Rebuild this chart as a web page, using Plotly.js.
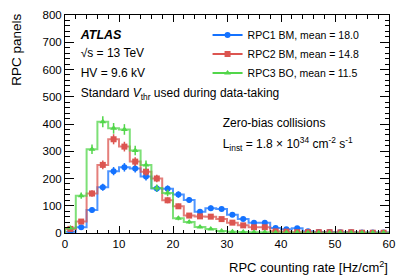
<!DOCTYPE html>
<html>
<head>
<meta charset="utf-8">
<script src="https://cdn.plot.ly/plotly-3.0.1.min.js"></script>
<style>html,body{margin:0;padding:0;background:#fff;}#chart{width:411px;height:279px;}</style>
</head>
<body>
<div id="chart"></div>
<script>
// Bin edges (width 2 Hz/cm^2) and centres
const binCenters = [1,3,5,7,9,11,13,15,17,19,21,23,25,27,29,31,33,35,37,39,41,43,45,47,49,51,53,55,57,59];
const binWidth = 2;
const rpc1BM = [5,21,84,168,227,241,237,207,163,162,141,121,78,91,88,67,51,38,38,18,14,17,6,4,4,3,3,2,2,2];
const rpc2BM = [15,42,145,250,344,317,262,225,200,120,98,64,61,60,51,38,28,21,21,6,5,3,3,3,3,2,3,1,1,1];
const rpc3BO = [18,137,307,408,384,380,303,250,165,147,54,40,22,15,7,5,4,3,3,2,2,2,1,1,1,1,1,1,1,1];
const seriesNames = ['RPC1 BM, mean = 18.0','RPC2 BM, mean = 14.8','RPC3 BO, mean = 11.5'];
const seriesColors = ['#1472ff','#dc5550','#52d64a'];
const seriesSymbols = ['circle','square','triangle-up'];
const seriesData = [rpc1BM, rpc2BM, rpc3BO];

// Text labels inside the frame
const infoTexts = ['<b><i>ATLAS</i></b>', '√s = 13 TeV', 'HV = 9.6 kV', 'Standard <i>V</i><sub>thr</sub> used during data-taking'];
const infoTexts2 = ['Zero-bias collisions', 'L<sub>inst</sub> = 1.8 × 10<sup>34</sup> cm<sup>-2</sup> s<sup>-1</sup>'];

const FONT = 'Liberation Sans, Arial, Helvetica, sans-serif';

function stepTrace(vals, color){
  const x = [binCenters[0]-binWidth/2];
  const y = [0];
  vals.forEach((v,i)=>{ x.push(binCenters[i]-binWidth/2); y.push(v); });
  const last = binCenters[binCenters.length-1]+binWidth/2;
  x.push(last); y.push(vals[vals.length-1]);
  x.push(last); y.push(0);
  return {x, y, type:'scatter', mode:'lines', line:{shape:'hv', color, width:2}, opacity:0.75,
          showlegend:false, hoverinfo:'skip'};
}
function markerTrace(vals, color, symbol, name){
  // interleave nulls so no connecting line is drawn, but legend shows line + marker
  const x = [], y = [], e = [];
  vals.forEach((v,i)=>{ x.push(binCenters[i], null); y.push(v, null); e.push(Math.sqrt(v), null); });
  return {x, y, type:'scatter', mode:'lines+markers', name, connectgaps:false,
          line:{color, width:2},
          marker:{symbol, size:6, color},
          error_y:{type:'data', array:e, visible:true, color, thickness:1.5, width:0}};
}

const traces = [];
seriesData.forEach((d,i)=> traces.push(stepTrace(d, seriesColors[i])));
seriesData.forEach((d,i)=> traces.push(markerTrace(d, seriesColors[i], seriesSymbols[i], seriesNames[i])));
traces.push({x:[2.9,2.9,2.9,2.9], y:[724,657,585,510], text:infoTexts, type:'scatter', mode:'text',
  textposition:'middle right', textfont:{family:FONT, size:[12.5,12,12,12], color:'#000'},
  showlegend:false, hoverinfo:'skip', cliponaxis:false});
traces.push({x:[29.2,29.2], y:[400,322], text:infoTexts2, type:'scatter', mode:'text',
  textposition:'middle right', textfont:{family:FONT, size:12, color:'#000'},
  showlegend:false, hoverinfo:'skip', cliponaxis:false});

const layout = {
  width:411, height:279,
  margin:{l:65, r:22, t:15, b:46},
  paper_bgcolor:'#fff', plot_bgcolor:'#fff',
  font:{family:FONT, size:11, color:'#000'},
  showlegend:true,
  legend:{x:0.44, y:0.975, xanchor:'left', yanchor:'top', bgcolor:'rgba(0,0,0,0)',
          font:{family:FONT, size:10.5, color:'#000'}, tracegroupgap:0, itemwidth:30},
  xaxis:{range:[0,60], dtick:10, tick0:0, ticks:'inside', ticklen:7, tickcolor:'#000',
         showline:true, linecolor:'#000', linewidth:1, mirror:'allticks', showgrid:false, zeroline:false,
         tickfont:{family:FONT, size:11.5},
         minor:{dtick:2, ticks:'inside', ticklen:3.5, tickcolor:'#000', showgrid:false}},
  yaxis:{range:[0,800], dtick:100, tick0:0, ticks:'inside', ticklen:9, tickcolor:'#000',
         showline:true, linecolor:'#000', linewidth:1, mirror:'allticks', showgrid:false, zeroline:false,
         showticklabels:true, tickfont:{family:FONT, size:11.5},
         minor:{dtick:20, ticks:'inside', ticklen:4.5, tickcolor:'#000', showgrid:false}},
  annotations:[
    {xref:'paper', yref:'paper', x:-0.148, y:1.015, xanchor:'center', yanchor:'top', textangle:-90,
     text:'RPC panels', showarrow:false, font:{family:FONT, size:13.5}},
    {xref:'paper', yref:'paper', x:1.003, y:-0.155, xanchor:'right', yanchor:'middle',
     text:'RPC counting rate [Hz/cm<sup>2</sup>]', showarrow:false, font:{family:FONT, size:13}}
  ]
};

Plotly.newPlot('chart', traces, layout, {staticPlot:true, displayModeBar:false});
</script>
</body>
</html>
